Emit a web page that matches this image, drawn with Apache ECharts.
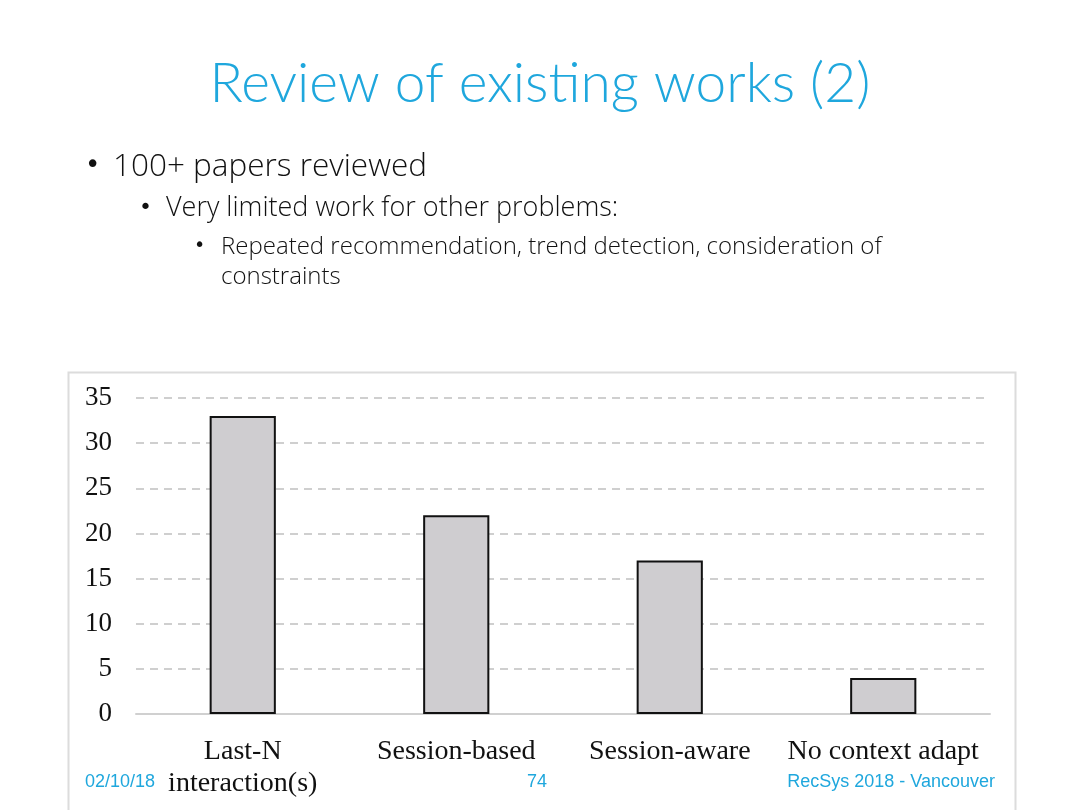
<!DOCTYPE html>
<html>
<head>
<meta charset="utf-8">
<script src="https://cdn.jsdelivr.net/npm/echarts@6/dist/echarts.min.js"></script>
<style>
  html, body { margin: 0; padding: 0; background: #fff; }
  #main { width: 1080px; height: 810px; }
</style>
</head>
<body>
<div id="main"></div>
<script>
var categories = ['Last-N\ninteraction(s)', 'Session-based', 'Session-aware', 'No context adapt'];
var paperCounts = [33, 22, 17, 4];
var yTicks = [0, 5, 10, 15, 20, 25, 30, 35];

var blue = '#1fa7dd';
var serif = '"Liberation Serif", "Times New Roman", serif';
var sans = '"Open Sans", Lato, sans-serif';
var dot = '"DejaVu Sans", sans-serif';
var footFont = '18px "Liberation Sans", Arial, sans-serif';

var chart = echarts.init(document.getElementById('main'));

chart.setOption({
  backgroundColor: '#fff',
  animation: false,
  title: {
    text: 'Review of existing works (2)',
    left: 'center',
    top: 52,
    textStyle: { color: blue, fontFamily: 'Lato, sans-serif', fontWeight: 300, fontSize: 55 }
  },
  graphic: [
    // chart frame
    { type: 'rect', z: -10, shape: { x: 68.5, y: 372.5, width: 947, height: 460 },
      style: { fill: '#fff', stroke: '#dcdcdc', lineWidth: 2 } },
    // bullets
    { type: 'text', left: 85, top: 153, style: { text: '•', fill: '#111', font: '26px ' + dot } },
    { type: 'text', left: 113, top: 151, style: { text: '100+ papers reviewed', fill: '#111', font: '300 31.5px ' + sans } },
    { type: 'text', left: 139, top: 197, style: { text: '•', fill: '#111', font: '22px ' + dot } },
    { type: 'text', left: 166, top: 195, style: { text: 'Very limited work for other problems:', fill: '#111', font: '300 27px ' + sans } },
    { type: 'text', left: 194, top: 237, style: { text: '•', fill: '#111', font: '19px ' + dot } },
    { type: 'text', left: 221, top: 235, style: { text: 'Repeated recommendation, trend detection, consideration of', fill: '#111', font: '300 24px ' + sans } },
    { type: 'text', left: 221, top: 265, style: { text: 'constraints', fill: '#111', font: '300 24px ' + sans } },
    // footer
    { type: 'text', left: 85, top: 773, style: { text: '02/10/18', fill: blue, font: footFont } },
    { type: 'text', left: 527, top: 773, style: { text: '74', fill: blue, font: footFont } },
    { type: 'text', right: 85, top: 773, style: { text: 'RecSys 2018 - Vancouver', fill: blue, font: footFont } }
  ],
  grid: { left: 136, right: 90, top: 398, bottom: 96 },
  xAxis: {
    type: 'category',
    data: categories,
    axisLine: { show: true, lineStyle: { color: '#d0d0d0', width: 2 } },
    axisTick: { show: false },
    axisLabel: {
      color: '#111', fontFamily: serif, fontSize: 28, margin: 22, lineHeight: 32,
      interval: 0
    }
  },
  yAxis: {
    type: 'value',
    min: yTicks[0],
    max: yTicks[yTicks.length - 1],
    interval: 5,
    axisLine: { show: false },
    axisTick: { show: false },
    axisLabel: { color: '#111', fontFamily: serif, fontSize: 27, margin: 24 },
    splitLine: { lineStyle: { color: '#cfcfcf', type: [8, 6], width: 2 } }
  },
  series: [{
    type: 'bar',
    data: paperCounts,
    barWidth: '31%',
    itemStyle: { color: '#cfcdd0', borderColor: '#111', borderWidth: 2 }
  }]
});
</script>
</body>
</html>
